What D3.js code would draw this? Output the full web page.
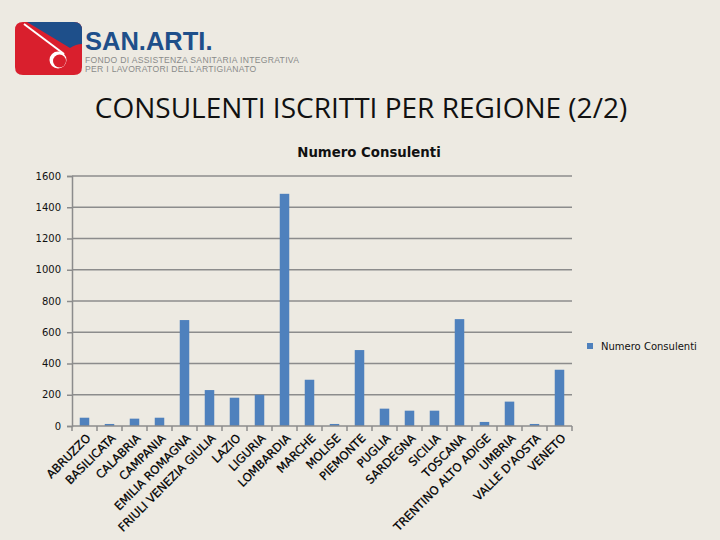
<!DOCTYPE html>
<html>
<head>
<meta charset="utf-8">
<script src="https://cdn.jsdelivr.net/npm/d3@7"></script>
<style>
html,body{margin:0;padding:0;background:#EDEAE2;}
svg{display:block;}
</style>
</head>
<body>
<svg id="chart" width="720" height="540"></svg>
<script>
const categories = ["ABRUZZO","BASILICATA","CALABRIA","CAMPANIA","EMILIA ROMAGNA","FRIULI VENEZIA GIULIA","LAZIO","LIGURIA","LOMBARDIA","MARCHE","MOLISE","PIEMONTE","PUGLIA","SARDEGNA","SICILIA","TOSCANA","TRENTINO ALTO ADIGE","UMBRIA","VALLE D'AOSTA","VENETO"];
const values = [53,13,47,53,678,230,181,200,1486,296,13,486,111,98,98,684,26,156,13,360];
const yTicks = [0,200,400,600,800,1000,1200,1400,1600];
const seriesName = "Numero Consulenti";
const pageTitle = "CONSULENTI ISCRITTI PER REGIONE (2/2)";

const svg = d3.select("#chart");
svg.append("rect").attr("width",720).attr("height",540).attr("fill","#EDEAE2");

// Logo
const logo = svg.append("g");
logo.append("path")
  .attr("d","M23,22 H74 Q82,22 82,30 V67 Q82,75 74,75 H23 Q15,75 15,67 V30 Q15,22 23,22 Z")
  .attr("fill","#D91F2D");
logo.append("path")
  .attr("d","M27,22 H74 Q82,22 82,30 V44 Q76,44 70,48 Z")
  .attr("fill","#1E4F8A");
logo.append("path").attr("d","M24,24 L64,54").attr("stroke","#fff").attr("stroke-width",2);
logo.append("circle").attr("cx",58).attr("cy",60).attr("r",8.5).attr("fill","#fff");
logo.append("circle").attr("cx",59.5).attr("cy",61).attr("r",6.5).attr("fill","#D91F2D");
logo.append("text").attr("x",85).attr("y",49.5).attr("font-family","Liberation Sans, Arial, sans-serif")
  .attr("font-weight","bold").attr("font-size",25.5).attr("fill","#1E4F8A").text("SAN.ARTI.");
logo.append("text").attr("x",85).attr("y",62.5).attr("font-family","Liberation Sans, Arial, sans-serif")
  .attr("font-size",8.6).attr("letter-spacing",0.3).attr("fill","#8a8a8a")
  .text("FONDO DI ASSISTENZA SANITARIA INTEGRATIVA");
logo.append("text").attr("x",85).attr("y",72).attr("font-family","Liberation Sans, Arial, sans-serif")
  .attr("font-size",8.6).attr("letter-spacing",0.3).attr("fill","#8a8a8a")
  .text("PER I LAVORATORI DELL'ARTIGIANATO");

// Titles
svg.append("text").attr("x",361).attr("y",118).attr("text-anchor","middle")
  .attr("font-family","Open Sans, sans-serif").attr("font-size",28).attr("fill","#111")
  .text(pageTitle);
svg.append("text").attr("x",369).attr("y",157).attr("text-anchor","middle")
  .attr("font-family","DejaVu Sans, sans-serif").attr("font-weight","bold").attr("font-size",13.3).attr("fill","#111")
  .text(seriesName);

const x0 = 72, x1 = 572, yTop = 176, yBot = 426;
const x = d3.scaleBand().domain(categories).range([x0,x1]).paddingInner(0.62).paddingOuter(0.31);
const y = d3.scaleLinear().domain([0,1600]).range([yBot,yTop]);

// gridlines
svg.append("g").selectAll("line").data(yTicks.filter(d=>d>0)).join("line")
  .attr("x1",x0).attr("x2",x1).attr("y1",d=>y(d)).attr("y2",d=>y(d))
  .attr("stroke","#8C8C8C").attr("stroke-width",1.5);

// y axis
const yAxis = svg.append("g").attr("transform",`translate(${x0},0)`)
  .call(d3.axisLeft(y).tickValues(yTicks).tickSize(5).tickPadding(6).tickFormat(d3.format("d")));
yAxis.select(".domain").attr("stroke","#8C8C8C").attr("stroke-width",1.5);
yAxis.selectAll(".tick line").attr("stroke","#8C8C8C").attr("stroke-width",1.5);
yAxis.selectAll("text").attr("font-family","DejaVu Sans, sans-serif").attr("font-size",10).attr("fill","#111");

// bars
svg.append("g").selectAll("rect").data(values).join("rect")
  .attr("x",(d,i)=>x(categories[i])).attr("width",x.bandwidth())
  .attr("y",d=>y(d)).attr("height",d=>yBot-y(d))
  .attr("fill","#4F81BD");

// x axis
const step = x.step();
const xAxis = svg.append("g").attr("transform",`translate(0,${yBot})`);
xAxis.append("line").attr("x1",x0).attr("x2",x1).attr("stroke","#8C8C8C").attr("stroke-width",1.5);
xAxis.selectAll(".tk").data(d3.range(categories.length+1)).join("line")
  .attr("x1",i=>x0+i*step).attr("x2",i=>x0+i*step).attr("y1",0).attr("y2",5)
  .attr("stroke","#8C8C8C").attr("stroke-width",1.5);
xAxis.selectAll("text").data(categories).join("text")
  .attr("transform",d=>`translate(${x(d)+x.bandwidth()/2+4},10) rotate(-45)`)
  .attr("text-anchor","end").attr("font-family","DejaVu Sans, sans-serif")
  .attr("font-size",11.5).attr("fill","#000").attr("dy","0.35em")
  .attr("stroke","#000").attr("stroke-width",0.25)
  .text(d=>d);

// legend
svg.append("rect").attr("x",587).attr("y",343).attr("width",6).attr("height",6).attr("fill","#4F81BD");
svg.append("text").attr("x",601).attr("y",350).attr("font-family","DejaVu Sans, sans-serif")
  .attr("font-size",10).attr("fill","#111").text(seriesName);
</script>
</body>
</html>
